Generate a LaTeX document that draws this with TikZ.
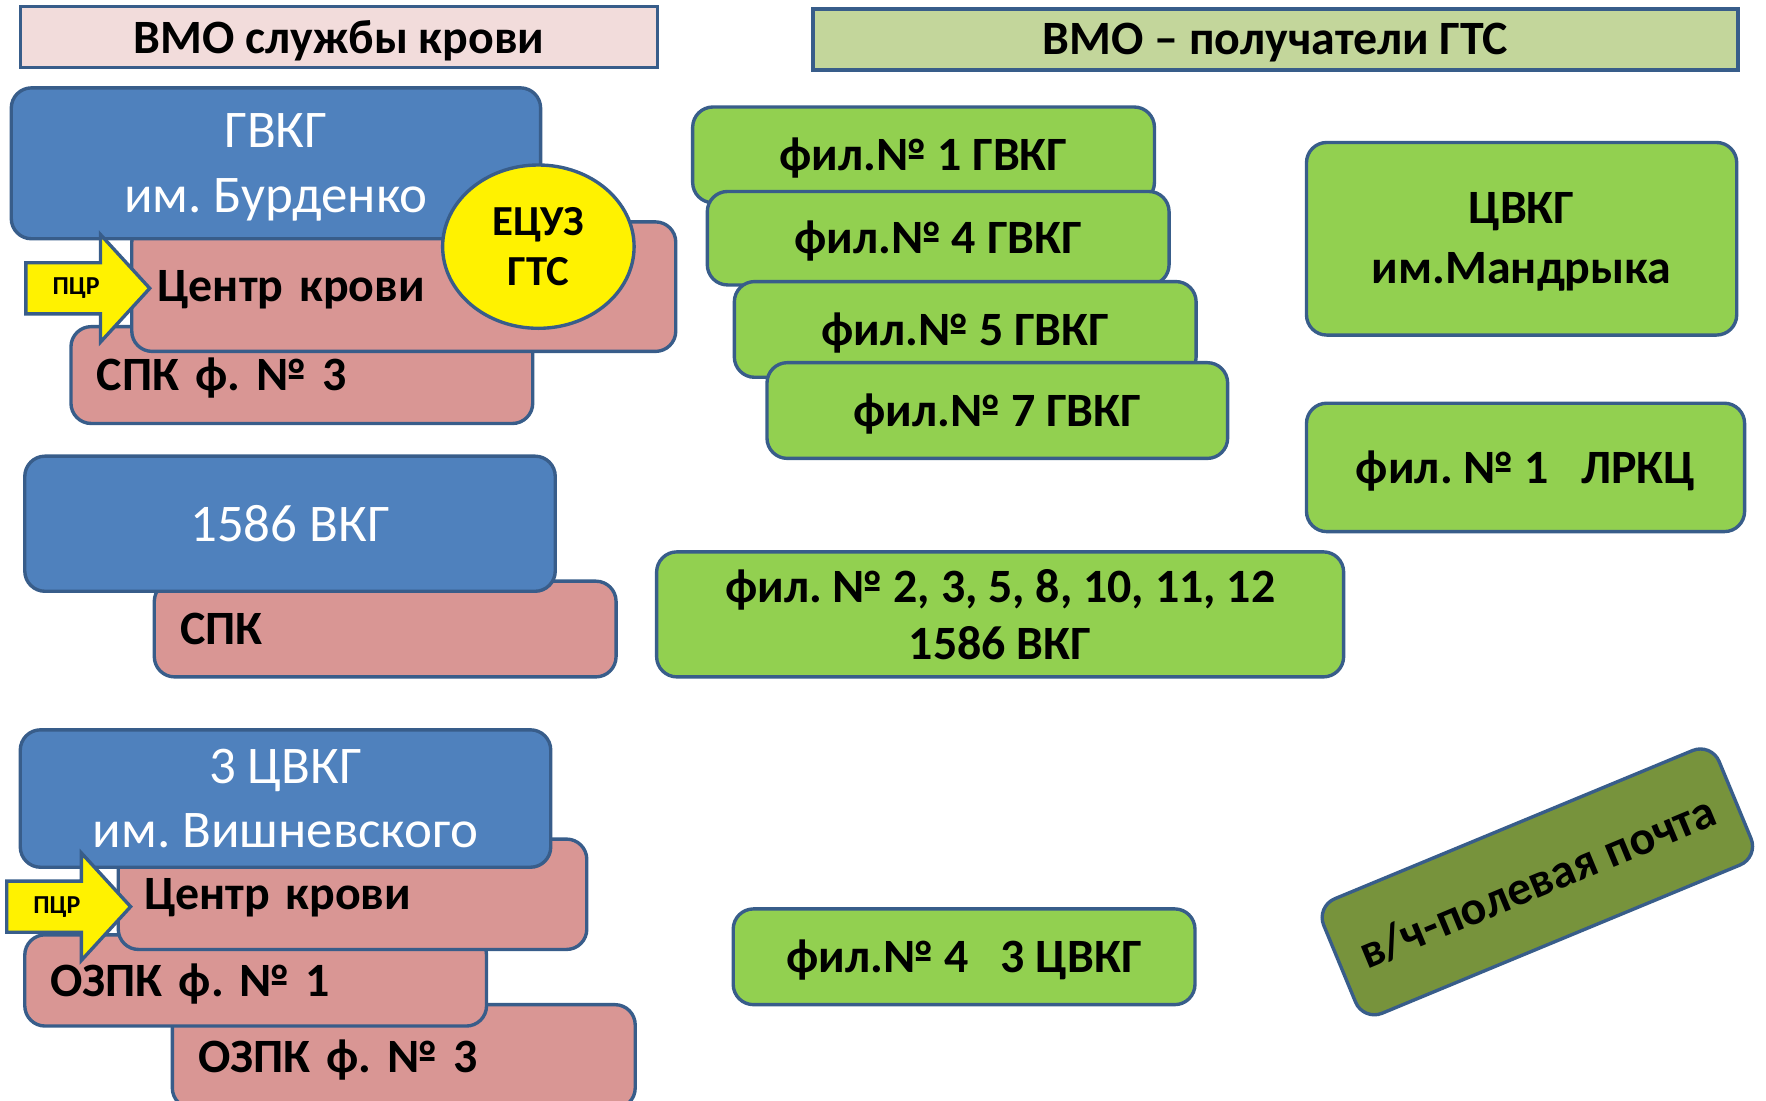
\documentclass[tikz,border=0pt]{standalone}
\usepackage{fontspec}
\setmainfont{Carlito}
\usetikzlibrary{shapes.arrows,shapes.geometric}

\definecolor{edgeBlue}{HTML}{385D8A}
\definecolor{boxBlue}{HTML}{4F81BD}
\definecolor{boxPink}{HTML}{D99694}
\definecolor{boxGreen}{HTML}{92D050}
\definecolor{darkGreen}{HTML}{77933C}
\definecolor{headPink}{HTML}{F2DCDB}
\definecolor{headGreen}{HTML}{C3D69B}

\frenchspacing

\begin{document}
\begin{tikzpicture}[x=1pt,y=-1pt,line width=3pt,font=\bfseries\fontsize{42.5}{51}\selectfont]
  \tikzstyle{box}=[draw=edgeBlue,rounded corners=18pt,inner sep=0pt]
  \tikzstyle{head}=[draw=edgeBlue,inner sep=0pt,text depth=1pt]
  \tikzstyle{hosp}=[box,fill=boxBlue,text=white,align=center,font=\mdseries\fontsize{47}{57}\selectfont]
  \tikzstyle{unit}=[box,fill=boxPink,align=left,inner xsep=23pt,text depth=1pt]
  \tikzstyle{branch}=[box,fill=boxGreen,align=center]
  \tikzstyle{pcr}=[single arrow,draw=edgeBlue,fill=yellow,anchor=tip,single arrow head extend=25pt,
    single arrow tip angle=95,minimum height=110pt,inner xsep=4pt,inner ysep=12pt,
    font=\bfseries\fontsize{23}{26}\selectfont]

  \clip (0,0) rectangle (1568,977);

  \node[head,fill=headPink,minimum width=566pt,minimum height=54pt] (leftHead) at (301,33) {ВМО службы крови};
  \node[head,fill=headGreen,minimum width=821pt,minimum height=54pt] (rightHead) at (1132.5,35) {ВМО -- получатели ГТС};

  \node[unit,text width=364pt,minimum height=86pt] (spkThree) at (268,333) {СПК ф. № 3};
  \node[unit,text width=437pt,minimum height=115pt] (bloodOne) at (358.5,254.5) {Центр крови};
  \node[hosp,minimum width=470pt,minimum height=134pt,text depth=0.5pt] (gvkg) at (245,145) {ГВКГ\\им. Бурденко};
  \node[pcr] (pcrOne) at (135,256) {ПЦР};
  \node[ellipse,draw=edgeBlue,fill=yellow,minimum width=170pt,minimum height=145pt,inner sep=0pt,
    align=center,font=\bfseries\fontsize{38}{45}\selectfont] (ezuz) at (478,219) {ЕЦУЗ\\ГТС};

  \node[unit,text width=364pt,minimum height=85pt] (spk) at (342,558.5) {СПК};
  \node[hosp,minimum width=471pt,minimum height=120pt] (vkg) at (257.5,465) {1586 ВКГ};

  \node[unit,text width=365pt,minimum height=92pt] (ozpkThree) at (358.5,938) {ОЗПК ф. № 3};
  \node[unit,text width=364pt,minimum height=81pt] (ozpkOne) at (227,870.5) {ОЗПК ф. № 1};
  \node[unit,text width=370pt,minimum height=98pt] (bloodThree) at (313,794) {Центр крови};
  \node[hosp,minimum width=471pt,minimum height=122pt] (cvkgThree) at (253.5,709) {3 ЦВКГ\\им. Вишневского};
  \node[pcr] (pcrThree) at (118,805) {ПЦР};

  \node[branch,minimum width=410pt,minimum height=85pt,text depth=1pt] (filOne) at (820,137.5) {фил.№ 1 ГВКГ};
  \node[branch,minimum width=410pt,minimum height=83pt,text depth=1pt] (filFour) at (833,211.5) {фил.№ 4 ГВКГ};
  \node[branch,minimum width=410pt,minimum height=85pt,text depth=1pt] (filFive) at (857,292.5) {фил.№ 5 ГВКГ};
  \node[branch,minimum width=409pt,minimum height=85pt,text depth=1pt] (filSeven) at (885.5,364.5) {фил.№ 7 ГВКГ};

  \node[branch,minimum width=382pt,minimum height=171pt,text depth=1pt,font=\bfseries\fontsize{42.5}{53}\selectfont] (cvkg) at (1351,212) {ЦВКГ\\им.Мандрыка};
  \node[branch,minimum width=389pt,minimum height=114pt,text depth=1pt] (lrkc) at (1354.5,415) {фил. № 1~~~ЛРКЦ};
  \node[branch,minimum width=610pt,minimum height=111pt,font=\bfseries\fontsize{42.5}{51}\selectfont] (filVkg) at (888,545.5) {фил. № 2, 3, 5, 8, 10, 11, 12\\1586 ВКГ};
  \node[branch,minimum width=410pt,minimum height=85pt,text depth=1pt] (filCvkg) at (856,849.5) {фил.№ 4~~~3 ЦВКГ};

  \node[box,fill=darkGreen,rotate=22.5,minimum width=380pt,minimum height=110pt] (post) at (1365,783) {в/ч-полевая почта};
\end{tikzpicture}
\end{document}
